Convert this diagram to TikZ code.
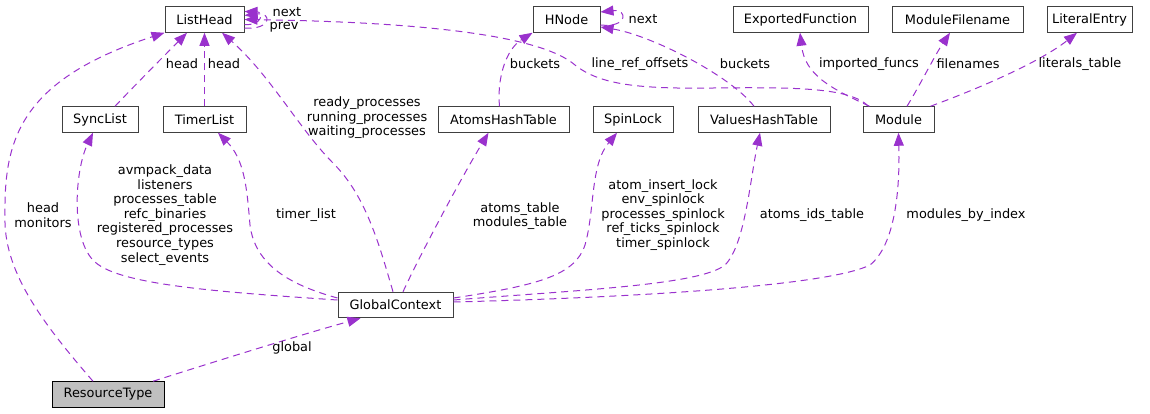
\documentclass[tikz,border=0pt]{standalone}
\usepackage{fontspec}
\setmainfont{DejaVu Sans}
\usetikzlibrary{arrows.meta}
\definecolor{edgecol}{HTML}{9A32CD}
\definecolor{boxline}{HTML}{404040}
\definecolor{boxgray}{HTML}{BFBFBF}
\newcommand{\lblfont}{\fontsize{12.9}{14.6}\selectfont}
\tikzset{
  cls/.style={draw=boxline, line width=1pt, fill=white, minimum height=25.5pt, inner sep=0pt, font=\lblfont},
  edge/.style={draw=edgecol, line width=1pt, dash pattern=on 7pt off 5pt, -{Triangle[length=13pt,width=10pt]}},
  lab/.style={font=\lblfont, align=center, inner sep=0pt, text=black}
}
\begin{document}
\begin{tikzpicture}[x=1pt,y=-1pt]
\useasboundingbox (0,0) rectangle (1150,413);
% nodes
\node[cls, minimum width=79pt]  (lh)  at (204.5,19.5) {ListHead};
\node[cls, minimum width=67pt]  (hn)  at (566.5,19.5) {HNode};
\node[cls, minimum width=135pt] (ef)  at (800.5,19.5) {ExportedFunction};
\node[cls, minimum width=131pt] (mf)  at (957.5,19.5) {ModuleFilename};
\node[cls, minimum width=85pt]  (le)  at (1089.5,19.5) {LiteralEntry};
\node[cls, minimum width=76pt]  (sync) at (100,119.5) {SyncList};
\node[cls, minimum width=83pt]  (tl)  at (204.5,119.5) {TimerList};
\node[cls, minimum width=131pt] (aht) at (503.5,119.5) {AtomsHashTable};
\node[cls, minimum width=80pt]  (sl)  at (633,119.5) {SpinLock};
\node[cls, minimum width=132pt] (vht) at (764,119.5) {ValuesHashTable};
\node[cls, minimum width=71pt]  (mod) at (898.5,119.5) {Module};
\node[cls, minimum width=115pt] (gc)  at (395.5,305) {GlobalContext};
\node[cls, minimum width=112pt, fill=boxgray, draw=black] (rt) at (108,394.5) {ResourceType};

% ResourceType -> ListHead
\draw[edge] ([xshift=-15pt]rt.north) .. controls (40,320) and (3,270) .. (5,215)
  .. controls (4,140) and (20,80) .. ([xshift=-40pt]lh.south);
\node[lab] (l1) at (43,215) {head\\monitors};
% SyncList -> ListHead
\draw[edge] ([xshift=15pt]sync.north) .. controls (140,80) and (165,55) .. ([xshift=-17.5pt]lh.south);
\node[lab] (l2) at (182,64) {head};
% TimerList -> ListHead
\draw[edge] (tl.north) -- (lh.south);
\node[lab] (l3) at (224,64) {head};
% ListHead self loops
\draw[edge] ([yshift=-5pt]lh.east) .. controls (262,26) and (264,12) .. ([yshift=8pt]lh.east);
\draw[edge] ([yshift=-8.5pt]lh.east) .. controls (272,30) and (272,12) .. ([yshift=4pt]lh.east);
\node[lab] (l4) at (287,12) {next};
\node[lab] (l5) at (284,27) {prev};
% GlobalContext -> ListHead
\draw[edge] ([xshift=-2.5pt]gc.north) .. controls (378,240) and (365,195) .. (333,163)
  .. controls (300,130) and (270,75) .. ([xshift=17.5pt]lh.south);
\node[lab] (l6) at (367,118) {ready\_processes\\running\_processes\\waiting\_processes};
% Module -> ListHead
\draw[edge] ([xshift=-30pt]mod.north) .. controls (850,88) and (800,87) .. (713,88)
  .. controls (640,89) and (600,85) .. (575,65)
  .. controls (540,35) and (420,22) .. ([yshift=0pt]lh.east);
\node[lab] (l7) at (640,64) {line\_ref\_offsets};
% HNode self loop
\draw[edge] ([yshift=-5.5pt]hn.east) .. controls (628,28) and (628,9) .. ([yshift=7.5pt]hn.east);
\node[lab] (l8) at (643,19) {next};
% AtomsHashTable -> HNode
\draw[edge] ([xshift=-4pt]aht.north) .. controls (497,80) and (505,50) .. (hn.south west);
\node[lab] (l9) at (535,64) {buckets};
% ValuesHashTable -> HNode
\draw[edge] ([xshift=-10pt]vht.north) .. controls (730,75) and (650,35) .. ([yshift=-7.5pt]hn.east);
\node[lab] (l10) at (745,64) {buckets};
% Module -> ExportedFunction
\draw[edge] ([xshift=-29pt]mod.north) .. controls (830,88) and (805,75) .. ([xshift=-0.5pt]ef.south);
\node[lab] (l11) at (869,64) {imported\_funcs};
% Module -> ModuleFilename
\draw[edge] ([xshift=8.5pt]mod.north) .. controls (920,85) and (935,55) .. ([xshift=-7.5pt]mf.south);
\node[lab] (l12) at (968,64) {filenames};
% Module -> LiteralEntry
\draw[edge] ([xshift=32pt]mod.north) .. controls (980,88) and (1040,62) .. ([xshift=-12.5pt]le.south);
\node[lab] (l13) at (1080,64) {literals\_table};
% GlobalContext -> SyncList
\draw[edge] ([yshift=5pt]gc.west) .. controls (220,292) and (120,285) .. (95,262)
  .. controls (70,240) and (75,170) .. ([xshift=-7pt]sync.south);
\node[lab] (l14) at (165,215) {avmpack\_data\\listeners\\processes\_table\\refc\_binaries\\registered\_processes\\resource\_types\\select\_events};
% GlobalContext -> TimerList
\draw[edge] ([yshift=7pt]gc.west) .. controls (290,285) and (255,265) .. (250,225)
  .. controls (247,190) and (245,160) .. ([xshift=13.5pt]tl.south);
\node[lab] (l15) at (306,215) {timer\_list};
% GlobalContext -> AtomsHashTable
\draw[edge] ([xshift=7.5pt]gc.north) .. controls (420,255) and (460,180) .. ([xshift=-15pt]aht.south);
\node[lab] (l16) at (520,216) {atoms\_table\\modules\_table};
% GlobalContext -> SpinLock
\draw[edge] ([yshift=7pt]gc.east) .. controls (540,285) and (575,275) .. (585,245)
  .. controls (595,210) and (590,165) .. ([xshift=-16pt]sl.south);
\node[lab] (l17) at (663,215) {atom\_insert\_lock\\env\_spinlock\\processes\_spinlock\\ref\_ticks\_spinlock\\timer\_spinlock};
% GlobalContext -> ValuesHashTable
\draw[edge] ([yshift=5pt]gc.east) .. controls (580,290) and (700,285) .. (725,265)
  .. controls (745,245) and (750,180) .. ([xshift=-4pt]vht.south);
\node[lab] (l18) at (812,215) {atoms\_ids\_table};
% GlobalContext -> Module
\draw[edge] ([yshift=3pt]gc.east) .. controls (650,297) and (830,285) .. (870,265)
  .. controls (895,245) and (900,190) .. (mod.south);
\node[lab] (l19) at (966,215) {modules\_by\_index};
% ResourceType -> GlobalContext
\draw[edge] ([xshift=45pt]rt.north) .. controls (220,360) and (300,335) .. ([xshift=-35pt]gc.south);
\node[lab] (l20) at (292,348) {global};
\end{tikzpicture}
\end{document}
